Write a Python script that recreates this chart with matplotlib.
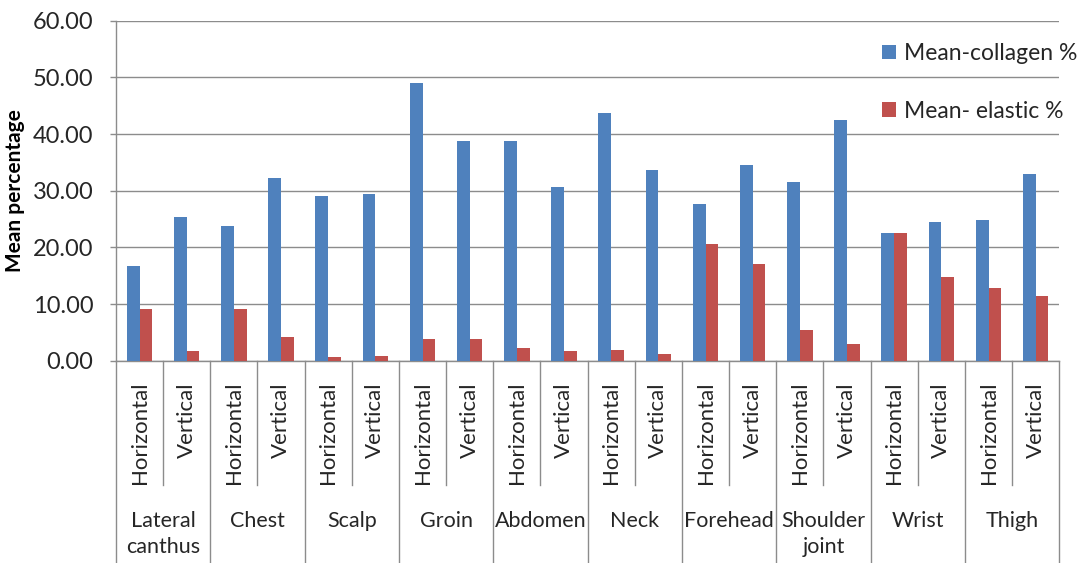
import matplotlib
matplotlib.use("Agg")
import matplotlib.pyplot as plt
import matplotlib.transforms as mtransforms
import numpy as np


# Body sites and the two measurement directions per site
SITES = ["Lateral\ncanthus", "Chest", "Scalp", "Groin", "Abdomen",
         "Neck", "Forehead", "Shoulder\njoint", "Wrist", "Thigh"]
DIRECTIONS = ["Horizontal", "Vertical"]

# Mean values, ordered site by site (Horizontal, Vertical)
COLLAGEN = [16.8, 25.3, 23.7, 32.3, 29.1, 29.5, 49.0, 38.8, 38.8, 30.6,
            43.8, 33.7, 27.6, 34.6, 31.6, 42.5, 22.6, 24.4, 24.9, 33.0]
ELASTIC = [9.1, 1.7, 9.1, 4.2, 0.6, 0.8, 3.8, 3.8, 2.2, 1.7,
           1.9, 1.2, 20.6, 17.0, 5.4, 2.9, 22.6, 14.7, 12.8, 11.5]
Y_TICKS = [0, 10, 20, 30, 40, 50, 60]

BLUE = "#4F81BD"
RED = "#C0504D"
GRID = "#8C8C8C"
TEXT = "#262626"
FONT = ["Lato", "DejaVu Sans"]

plt.rcParams["font.family"] = FONT
plt.rcParams["text.color"] = TEXT


def main() -> None:
    fig = plt.figure(figsize=(10.83, 5.63), dpi=100)
    ax = fig.add_axes([0.1071, 0.3593, 0.8710, 0.6039])

    n = len(COLLAGEN)
    x = np.arange(n)
    width = 0.27
    ax.bar(x - width / 2, COLLAGEN, width, color=BLUE, label="Mean-collagen %", zorder=3)
    ax.bar(x + width / 2, ELASTIC, width, color=RED, label="Mean- elastic %", zorder=3)

    ax.set_xlim(-0.5, n - 0.5)
    ax.set_ylim(0, 60)
    ax.set_yticks(Y_TICKS)
    ax.set_yticklabels([f"{v:.2f}" for v in Y_TICKS], fontsize=17, color=TEXT)
    ax.tick_params(axis="y", direction="out", length=4.3, width=1.0, color=GRID, pad=12)
    ax.set_xticks([])
    ax.grid(axis="y", color=GRID, linewidth=1.0, zorder=0)

    for side in ["top", "right"]:
        ax.spines[side].set_visible(False)
    for side in ["left", "bottom"]:
        ax.spines[side].set_color(GRID)
        ax.spines[side].set_linewidth(1.0)

    ax.set_ylabel("Mean percentage", fontsize=15, fontweight="bold", color="black")
    ax.yaxis.set_label_coords(-0.0965, 0.5)

    # Two-level category axis drawn below the plot
    trans = mtransforms.blended_transform_factory(ax.transData, fig.transFigure)
    y_axis = 0.3593
    y_inner = 1 - 485 / 563
    for k in range(len(SITES) + 1):
        ax.plot([2 * k - 0.5, 2 * k - 0.5], [y_axis, 0.0], transform=trans,
                color=GRID, linewidth=1.0, clip_on=False)
    for k in range(len(SITES)):
        ax.plot([2 * k + 0.5, 2 * k + 0.5], [y_axis, y_inner], transform=trans,
                color=GRID, linewidth=1.0, clip_on=False)

    for i in range(n):
        ax.text(i, 1 - 382 / 563, DIRECTIONS[i % 2], transform=trans, rotation=90,
                ha="center", va="top", fontsize=16)
    for k, site in enumerate(SITES):
        ax.text(2 * k + 0.5, 1 - 511 / 563, site, transform=trans,
                ha="center", va="top", fontsize=15.5, linespacing=1.4)

    ax.legend(loc="upper left", bbox_to_anchor=(882 / 1083, 1 - 43 / 563),
              bbox_transform=fig.transFigure, frameon=False, fontsize=16.5,
              handlelength=0.6, handleheight=0.6, handletextpad=0.35,
              labelspacing=1.6, borderpad=0, borderaxespad=0)

    fig.savefig("out.png", dpi=100)


if __name__ == "__main__":
    main()
